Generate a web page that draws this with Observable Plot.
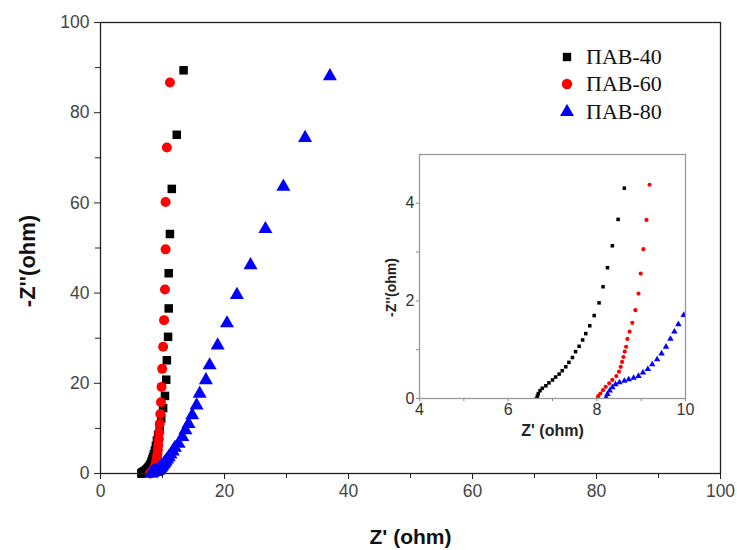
<!DOCTYPE html>
<html>
<head>
<meta charset="utf-8">
<script src="https://cdn.jsdelivr.net/npm/d3@7"></script>
<script src="https://cdn.jsdelivr.net/npm/@observablehq/plot@0.6"></script>
<style>
  html, body { margin: 0; padding: 0; background: #fff; }
  #wrap { position: relative; width: 737px; height: 550px; overflow: hidden; }
  #inset { position: absolute; left: 389px; top: 149px; }
  #legend { position: absolute; left: 559px; top: 43px; font-family: "Liberation Serif", "Times New Roman", serif; font-size: 22px; color: #111; }
  .row { display: flex; align-items: center; height: 27.5px; }
  .row svg { width: 16px; height: 16px; margin-right: 11px; }
</style>
</head>
<body>
<div id="wrap">
  <div id="main"></div>
  <div id="inset"></div>
  <div id="legend"></div>
</div>
<script>
// ---- Data ----
const seriesNames = ["ПАВ-40", "ПАВ-60", "ПАВ-80"];
const seriesColors = ["#000000", "#ff0000", "#0000ff"];
const seriesSymbols = ["square", "circle", "triangle"];

// ПАВ-40 (black squares)
const pab40Re = [6.64,6.66,6.68,6.72,6.77,6.85,6.92,7.00,7.07,7.15,7.22,7.30,7.37,7.45,7.52,7.60,7.68,7.75,7.84,7.94,8.05,8.14,8.24,8.35,8.48,8.62,
                 8.77,8.93,9.10,9.30,9.55,9.80,10.1,10.4,10.6,10.7,10.9,11.0,11.0,11.2,11.5,12.3,13.4];
const pab40Im = [0.00,0.05,0.10,0.16,0.21,0.26,0.32,0.38,0.44,0.50,0.57,0.65,0.74,0.84,0.96,1.07,1.20,1.33,1.49,1.70,1.96,2.29,2.68,3.13,3.67,4.31,
                 5.1,6.1,7.3,8.6,10.2,12.2,14.5,17.2,20.8,25.1,30.3,36.6,44.4,53.1,63.1,75.1,89.4];

// ПАВ-60 (red circles)
const pab60Re = [8.02,8.03,8.08,8.14,8.20,8.28,8.35,8.44,8.50,8.54,8.57,8.60,8.63,8.66,8.69,8.74,8.80,8.87,8.94,8.99,9.05,9.12,9.19,
                 9.25,9.32,9.40,9.48,9.56,9.65,9.75,9.85,9.95,10.1,10.25,10.4,10.5,10.5,10.7,11.2];
const pab60Im = [0.00,0.05,0.10,0.17,0.24,0.31,0.38,0.46,0.55,0.65,0.75,0.85,0.96,1.06,1.22,1.37,1.55,1.81,2.15,2.56,3.06,3.66,4.38,
                 5.25,6.3,7.6,9.1,11.0,13.2,15.8,19.2,23.2,28.1,34.0,40.8,49.7,60.2,72.3,86.7];

// ПАВ-80 (blue triangles)
const pab80Re = [8.21,8.24,8.29,8.35,8.42,8.51,8.62,8.72,8.83,8.94,9.04,9.15,9.25,9.36,9.46,9.56,9.66,9.75,9.84,9.96,
                 10.12,10.3,10.5,10.75,11.0,11.3,11.65,12.0,12.6,13.2,13.7,14.2,14.8,15.5,16.0,17.0,17.6,18.9,20.4,22.0,24.2,26.6,29.5,33.0,37.0];
const pab80Im = [0.02,0.09,0.16,0.23,0.29,0.33,0.36,0.39,0.42,0.46,0.53,0.60,0.70,0.80,0.92,1.06,1.22,1.37,1.52,1.71,
                 1.98,2.3,2.68,3.12,3.63,4.22,4.9,5.7,6.6,8.1,9.6,11.0,12.9,15.1,17.7,20.7,24.0,28.4,33.3,39.6,46.2,54.2,63.6,74.4,88.1];

// Axis ticks
const mainMajor = [0, 20, 40, 60, 80, 100];
const mainMinor = [10, 30, 50, 70, 90];
const insetXMajor = [4, 6, 8, 10];
const insetXMinor = [5, 7, 9];
const insetYMajor = [0, 2, 4];
const insetYMinor = [1, 3];

const xLabel = "Z' (ohm)";
const yLabel = "-Z''(ohm)";

// ---- Build tables ----
function table(re, im, name) { return re.map((r, i) => ({re: r, im: im[i], name})); }
const data = [
  table(pab40Re, pab40Im, seriesNames[0]),
  table(pab60Re, pab60Im, seriesNames[1]),
  table(pab80Re, pab80Im, seriesNames[2])
];
const mainR = [4.8, 5.0, 5.2];

const font = "'Liberation Sans', Arial, sans-serif";
const fmt = d => String(d);

// ---- Main plot ----
const main = Plot.plot({
  width: 737, height: 550,
  marginLeft: 100, marginRight: 17, marginTop: 22, marginBottom: 77,
  x: {domain: [0, 100]},
  y: {domain: [0, 100]},
  style: {fontFamily: font, background: "transparent", overflow: "visible"},
  marks: [
    Plot.axisX({ticks: mainMajor, tickSize: 6, tickPadding: 5, fontSize: 17.5, fill: "#444", stroke: "#222", tickFormat: fmt, label: null}),
    Plot.axisX({ticks: mainMinor, tickSize: 5, tickFormat: () => "", stroke: "#222", label: null}),
    Plot.axisY({ticks: mainMajor, tickSize: 6, tickPadding: 5, fontSize: 17.5, fill: "#444", stroke: "#222", tickFormat: fmt, label: null}),
    Plot.axisY({ticks: mainMinor, tickSize: 5, tickFormat: () => "", stroke: "#222", label: null}),
    ...data.map((d, i) => Plot.dot(d, {x: "re", y: "im", symbol: seriesSymbols[i], fill: seriesColors[i], r: mainR[i]})),
    Plot.frame({stroke: "#222", strokeWidth: 1.3}),
    Plot.text([xLabel], {frameAnchor: "bottom", textAnchor: "middle", lineAnchor: "middle", dy: 64, fontSize: 21, fontWeight: "bold", fill: "#111"}),
    Plot.text([yLabel], {frameAnchor: "left", textAnchor: "middle", lineAnchor: "middle", rotate: -90, dx: -73, dy: 13, fontSize: 22, fontWeight: "bold", fill: "#111"})
  ]
});
document.getElementById("main").appendChild(main);

// ---- Inset plot ----
const insetR = [2.0, 2.1, 2.4];
const inset = Plot.plot({
  width: 301, height: 284,
  marginLeft: 30, marginRight: 5, marginTop: 5, marginBottom: 35,
  x: {domain: [4, 10]},
  y: {domain: [0, 5]},
  style: {fontFamily: font, background: "transparent", overflow: "visible"},
  marks: [
    Plot.frame({fill: "white", stroke: "none"}),
    Plot.axisX({ticks: insetXMajor, tickSize: 3, tickPadding: 2, fontSize: 16, fill: "#333", stroke: "#888", tickFormat: fmt, label: null}),
    Plot.axisX({ticks: insetXMinor, tickSize: 3, tickFormat: () => "", stroke: "#888", label: null}),
    Plot.axisY({ticks: insetYMajor, tickSize: 3, tickPadding: 2, fontSize: 16, fill: "#333", stroke: "#888", tickFormat: fmt, label: null}),
    Plot.axisY({ticks: insetYMinor, tickSize: 3, tickFormat: () => "", stroke: "#888", label: null}),
    ...data.map((d, i) => Plot.dot(d, {x: "re", y: "im", symbol: seriesSymbols[i], fill: seriesColors[i], r: insetR[i], clip: true})),
    Plot.frame({stroke: "#999", strokeWidth: 1.3}),
    Plot.text([xLabel], {frameAnchor: "bottom", textAnchor: "middle", lineAnchor: "middle", dy: 32, fontSize: 16, fontWeight: "bold", fill: "#222"}),
    Plot.text([yLabel], {frameAnchor: "left", textAnchor: "middle", lineAnchor: "middle", rotate: -90, dx: -28, dy: 11, fontSize: 14, fontWeight: "bold", fill: "#222"})
  ]
});
document.getElementById("inset").appendChild(inset);

// ---- Legend ----
const legend = document.getElementById("legend");
seriesNames.forEach((name, i) => {
  const row = document.createElement("div");
  row.className = "row";
  const ns = "http://www.w3.org/2000/svg";
  const svg = document.createElementNS(ns, "svg");
  svg.setAttribute("viewBox", "-8 -8 16 16");
  const p = document.createElementNS(ns, "path");
  const symMap = {square: d3.symbolSquare, circle: d3.symbolCircle, triangle: d3.symbolTriangle};
  const sizes = [70, 85, 85];
  p.setAttribute("d", d3.symbol(symMap[seriesSymbols[i]], sizes[i])());
  p.setAttribute("fill", seriesColors[i]);
  svg.appendChild(p);
  row.appendChild(svg);
  const t = document.createElement("span");
  t.textContent = name;
  row.appendChild(t);
  legend.appendChild(row);
});
</script>
</body>
</html>
